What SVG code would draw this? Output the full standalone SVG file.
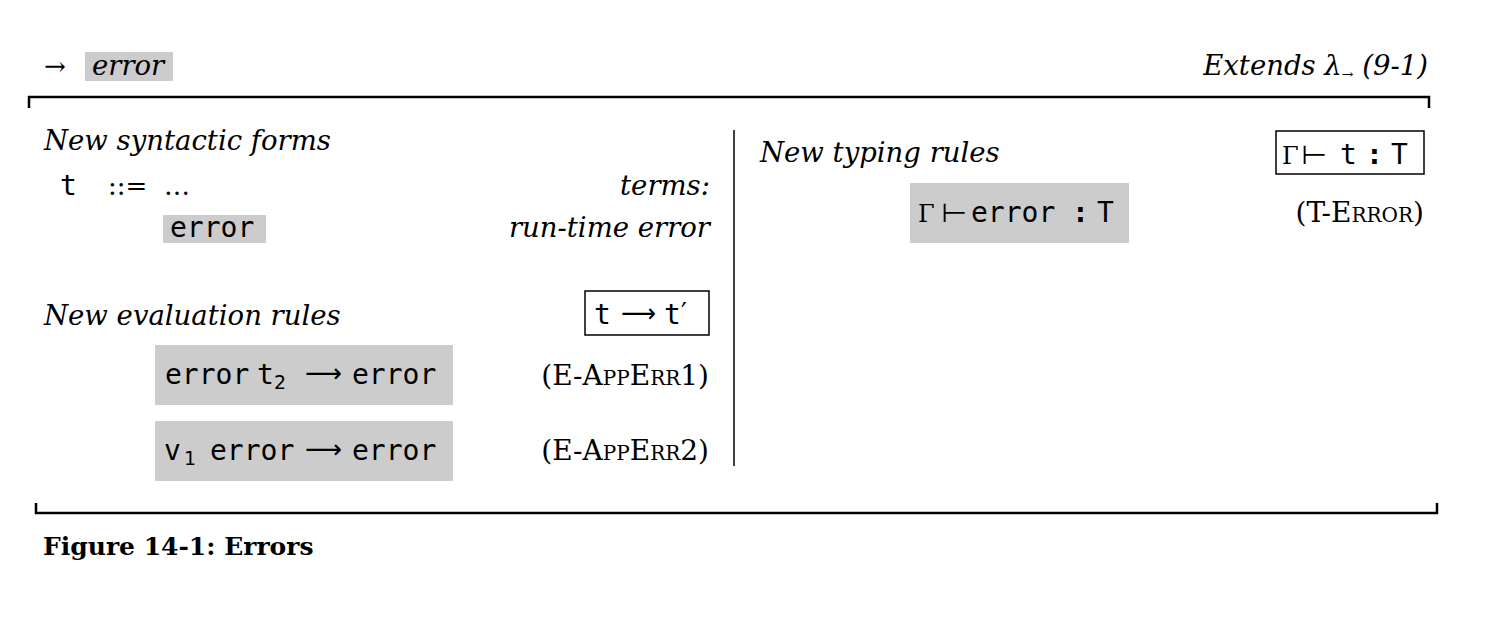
<svg xmlns="http://www.w3.org/2000/svg" width="1494" height="624" viewBox="0 0 1494 624">
<style>
.it{font-family:"DejaVu Serif","Liberation Serif",serif;font-style:italic;font-size:27.5px;fill:#000}
.rm{font-family:"DejaVu Serif","Liberation Serif",serif;font-size:26px;fill:#000}
.sc{font-family:"DejaVu Serif","Liberation Serif",serif;font-size:28px;font-variant:small-caps;fill:#000}
.tt{font-family:"DejaVu Sans Mono","Liberation Mono",monospace;font-size:28px;fill:#000}
.sub{font-family:"DejaVu Sans","Liberation Sans",sans-serif;font-size:19px;fill:#000}
.ar{font-family:"DejaVu Sans","Liberation Sans",sans-serif;font-size:26px;fill:#000}
.gam{font-family:"DejaVu Serif","Liberation Serif",serif;font-size:24px;fill:#000}
.bf{font-family:"DejaVu Serif","Liberation Serif",serif;font-weight:bold;font-size:25px;fill:#000}
.gray{fill:#cccccc}
.rule{stroke:#000;stroke-width:2.5;fill:none}
.box{stroke:#000;stroke-width:1.5;fill:none}
</style>
<rect width="1494" height="624" fill="#fff"/>
<g id="header">
<text x="44" y="75" class="rm">→</text>
<rect x="85" y="52" width="88" height="29" class="gray"/>
<text x="92" y="75" class="it">error</text>
<text x="1428" y="75" class="it" text-anchor="end">Extends λ<tspan font-size="14" font-style="normal" dy="4">→</tspan><tspan dy="-4"> (9-1)</tspan></text>
</g>
<g id="frame">
<path d="M29 108 V97 H1429 V108" class="rule"/>
<path d="M36 503 V513 H1437 V503" class="rule"/>
<line x1="734" y1="130" x2="734" y2="466" stroke="#000" stroke-width="1.5"/>
</g>
<g id="syntax">
<text x="44" y="150" class="it">New syntactic forms</text>
<text x="60" y="195" class="tt">t</text>
<text x="108" y="195" class="rm" font-size="23">::=</text>
<text x="164" y="195" class="rm" font-size="24">…</text>
<text x="710" y="195" class="it" text-anchor="end">terms:</text>
<rect x="163" y="215" width="103" height="28" class="gray"/>
<text x="170" y="237" class="tt">error</text>
<text x="710" y="237" class="it" text-anchor="end">run-time error</text>
</g>
<g id="evaluation">
<text x="44" y="325" class="it">New evaluation rules</text>
<rect x="585" y="291" width="124" height="44" class="box"/>
<text x="594" y="324" class="tt">t</text>
<text x="621" y="322" class="ar" textLength="35" lengthAdjust="spacingAndGlyphs">⟶</text>
<text x="664" y="324" class="tt">t</text>
<text x="681" y="322" class="ar" font-size="28">′</text>
<g id="E-AppErr1">
<rect x="155" y="345" width="298" height="60" class="gray"/>
<text x="165" y="384" class="tt">error</text>
<text x="257" y="384" class="tt">t</text>
<text x="274" y="389" class="sub">2</text>
<text x="305" y="382" class="ar" textLength="37" lengthAdjust="spacingAndGlyphs">⟶</text>
<text x="352" y="384" class="tt">error</text>
<text x="709" y="385" class="sc" text-anchor="end">(E-AppErr1)</text>
</g>
<g id="E-AppErr2">
<rect x="155" y="421" width="298" height="60" class="gray"/>
<text x="164" y="460" class="tt">v</text>
<text x="184" y="465" class="sub">1</text>
<text x="210" y="460" class="tt">error</text>
<text x="305" y="458" class="ar" textLength="37" lengthAdjust="spacingAndGlyphs">⟶</text>
<text x="352" y="460" class="tt">error</text>
<text x="709" y="460" class="sc" text-anchor="end">(E-AppErr2)</text>
</g>
</g>
<g id="typing">
<text x="760" y="162" class="it">New typing rules</text>
<rect x="1276" y="131" width="148" height="43" class="box"/>
<text x="1282" y="164" class="gam">Γ</text>
<text transform="translate(1301,164) scale(1.15,1)" class="ar" font-size="24">⊢</text>
<text x="1340" y="164" class="tt">t</text>
<text x="1366" y="164" class="tt" font-weight="bold">:</text>
<text x="1391" y="164" class="tt">T</text>
<g id="T-Error">
<rect x="910" y="183" width="219" height="60" class="gray"/>
<text x="918" y="222" class="gam">Γ</text>
<text transform="translate(941,222) scale(1.15,1)" class="ar" font-size="24">⊢</text>
<text x="971" y="222" class="tt">error</text>
<text x="1072" y="222" class="tt" font-weight="bold">:</text>
<text x="1097" y="222" class="tt">T</text>
<text x="1424" y="222" class="sc" text-anchor="end">(T-Error)</text>
</g>
</g>
<g id="caption">
<text x="43" y="555" class="bf">Figure 14-1: Errors</text>
</g>
</svg>
